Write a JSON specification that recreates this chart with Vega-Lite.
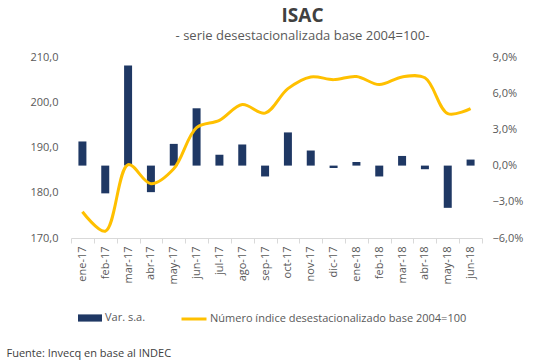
{
  "$schema": "https://vega.github.io/schema/vega-lite/v6.json",
  "width": 411,
  "height": 181,
  "autosize": "none",
  "padding": {"left": 71, "top": 57, "right": 64, "bottom": 124},
  "background": "white",
  "title": {
    "text": "ISAC",
    "subtitle": "- serie desestacionalizada base 2004=100-",
    "anchor": "middle",
    "dx": 26,
    "offset": 8,
    "font": "Open Sans",
    "fontSize": 19,
    "fontWeight": "bold",
    "color": "#404040",
    "subtitleFont": "Open Sans",
    "subtitleFontSize": 13,
    "subtitleColor": "#595959",
    "subtitlePadding": 4
  },
  "data": {
    "values": [
      {"mes": "ene-17", "var": 0.020, "idx": 175.8},
      {"mes": "feb-17", "var": -0.023, "idx": 171.5},
      {"mes": "mar-17", "var": 0.083, "idx": 186.2},
      {"mes": "abr-17", "var": -0.022, "idx": 182.0},
      {"mes": "may-17", "var": 0.018, "idx": 185.3},
      {"mes": "jun-17", "var": 0.0475, "idx": 194.4},
      {"mes": "jul-17", "var": 0.009, "idx": 196.0},
      {"mes": "ago-17", "var": 0.0175, "idx": 199.5},
      {"mes": "sep-17", "var": -0.009, "idx": 197.6},
      {"mes": "oct-17", "var": 0.0275, "idx": 203.0},
      {"mes": "nov-17", "var": 0.0125, "idx": 205.6},
      {"mes": "dic-17", "var": -0.002, "idx": 205.0},
      {"mes": "ene-18", "var": 0.003, "idx": 205.7},
      {"mes": "feb-18", "var": -0.009, "idx": 203.9},
      {"mes": "mar-18", "var": 0.008, "idx": 205.6},
      {"mes": "abr-18", "var": -0.003, "idx": 205.4},
      {"mes": "may-18", "var": -0.035, "idx": 197.5},
      {"mes": "jun-18", "var": 0.005, "idx": 198.6}
    ]
  },
  "encoding": {
    "x": {
      "field": "mes",
      "type": "ordinal",
      "sort": null,
      "scale": {"paddingInner": 0, "paddingOuter": 0},
      "axis": {
        "title": "Fuente: Invecq en base al INDEC",
        "titleAnchor": "start",
        "titleAlign": "left",
        "titleX": -65,
        "titleY": 109,
        "titleFont": "Open Sans",
        "titleFontSize": 11,
        "titleFontWeight": "normal",
        "titleColor": "#404040",
        "labelAngle": 270,
        "labelFont": "Open Sans",
        "labelFontSize": 11,
        "labelColor": "#595959",
        "labelPadding": 3,
        "domainColor": "#d9d9d9",
        "tickColor": "#d9d9d9",
        "tickSize": 5,
        "tickBand": "extent",
        "grid": false
      }
    }
  },
  "layer": [
    {
      "mark": {"type": "bar", "width": {"band": 0.35}},
      "encoding": {
        "y": {
          "field": "var",
          "type": "quantitative",
          "scale": {"domain": [-0.06, 0.09], "nice": false},
          "axis": {
            "orient": "right",
            "title": null,
            "values": [-0.06, -0.03, 0, 0.03, 0.06, 0.09],
            "labelExpr": "replace(format(datum.value, '.1%'), '.', ',')",
            "grid": false,
            "domain": false,
            "ticks": false,
            "labelPadding": 10,
            "labelFont": "Open Sans",
            "labelFontSize": 11,
            "labelColor": "#595959"
          }
        },
        "fill": {
          "datum": "Var. s.a.",
          "type": "nominal",
          "scale": {"range": ["#1f3864"]},
          "legend": {
            "title": null,
            "orient": "none",
            "legendX": 6,
            "legendY": 248,
            "symbolType": "M-1,-0.3H1V0.3H-1Z",
            "symbolSize": 576,
            "labelFont": "Open Sans",
            "labelFontSize": 11,
            "labelColor": "#595959",
            "labelOffset": 2,
            "labelLimit": 400
          }
        }
      }
    },
    {
      "mark": {"type": "line", "interpolate": "catmull-rom", "strokeWidth": 3},
      "encoding": {
        "y": {
          "field": "idx",
          "type": "quantitative",
          "scale": {"domain": [170, 210], "nice": false, "zero": false},
          "axis": {
            "orient": "left",
            "title": null,
            "values": [170, 180, 190, 200, 210],
            "labelExpr": "replace(format(datum.value, '.1f'), '.', ',')",
            "grid": false,
            "domain": false,
            "ticks": false,
            "labelPadding": 13,
            "labelFont": "Open Sans",
            "labelFontSize": 11,
            "labelColor": "#595959"
          }
        },
        "stroke": {
          "datum": "Número índice desestacionalizado base 2004=100",
          "type": "nominal",
          "scale": {"range": ["#ffc000"]},
          "legend": {
            "title": null,
            "orient": "none",
            "legendX": 109,
            "legendY": 248,
            "symbolType": "stroke",
            "symbolSize": 625,
            "symbolStrokeWidth": 3,
            "labelFont": "Open Sans",
            "labelFontSize": 11,
            "labelColor": "#595959",
            "labelOffset": 2,
            "labelLimit": 400
          }
        }
      }
    }
  ],
  "resolve": {"scale": {"y": "independent"}},
  "config": {"view": {"stroke": null}}
}
